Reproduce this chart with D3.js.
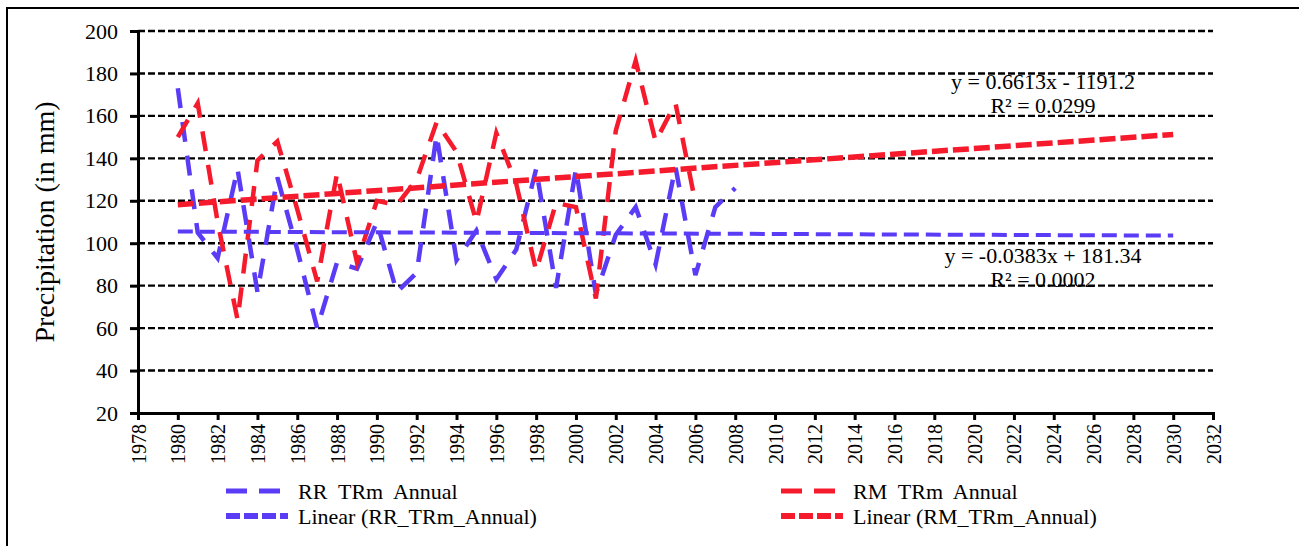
<!DOCTYPE html>
<html>
<head>
<meta charset="utf-8">
<script src="https://cdn.jsdelivr.net/npm/d3@7"></script>
<style>
  body { margin: 0; background: #fff; }
  text { font-family: "Liberation Serif", "Times New Roman", serif; fill: #000; white-space: pre; }
</style>
</head>
<body>
<div id="chart"></div>
<script>
// data
var rrYears = d3.range(1980, 2009);
var rrValues = [173, 105, 93, 135, 77, 131, 97, 60, 91, 88, 110, 77, 86, 151, 92,
                106, 83, 97, 135, 79, 135, 76, 104, 117, 90, 136, 85, 117, 126];

var rmYears = d3.range(1980, 2007);
var rmValues = [150, 166, 110, 64, 139, 148, 116, 82, 133, 91, 120, 118, 130, 157, 143,
                110, 152, 128, 87, 119, 117, 74, 153, 186, 148, 166, 119];

// trendline equations as printed on the chart
var trendSlopes = [-0.0383, 0.6613];
var trendIntercepts = [181.34, -1191.2];
var trendRange = [1980, 2030];

var yTicks = [20, 40, 60, 80, 100, 120, 140, 160, 180, 200];
var xTicks = d3.range(1978, 2033, 2);

var legendLabels = ["RR  TRm  Annual", "Linear (RR_TRm_Annual)", "RM  TRm  Annual", "Linear (RM_TRm_Annual)"];
var eqLabels = ["y = -0.0383x + 181.34", "R\u00B2 = 0.0002", "y = 0.6613x - 1191.2", "R\u00B2 = 0.0299"];

var blue = "#5a3cf7";
var red = "#f51a2c";
var serif = "'Liberation Serif', 'Times New Roman', serif";

var svgWidth = 1299;
var svgHeight = 546;

var margin = { top: 31, right: 86, bottom: 133, left: 138 };
var chartWidth = svgWidth - margin.left - margin.right;
var chartHeight = svgHeight - margin.top - margin.bottom;

var svg = d3.select("#chart")
  .append("svg")
  .attr("width", svgWidth)
  .attr("height", svgHeight)
  .attr("font-family", serif);

// outer frame (only top and left edges show inside the window)
svg.append("rect")
  .attr("x", 7).attr("y", 8)
  .attr("width", 1310).attr("height", 560)
  .attr("fill", "none")
  .attr("stroke", "#000")
  .attr("stroke-width", 2);

var chartGroup = svg.append("g")
  .attr("transform", `translate(${margin.left}, ${margin.top})`);

var xScale = d3.scaleLinear().domain([1978, 2032]).range([0, chartWidth]);
var yScale = d3.scaleLinear().domain([20, 200]).range([chartHeight, 0]);

// gridlines
chartGroup.append("g")
  .selectAll("line")
  .data(yTicks.filter(d => d > 20))
  .enter()
  .append("line")
  .attr("x1", 0)
  .attr("x2", chartWidth)
  .attr("y1", d => yScale(d))
  .attr("y2", d => yScale(d))
  .attr("stroke", "#000")
  .attr("stroke-width", 2.4)
  .attr("stroke-dasharray", "7,3");

// axes
var leftAxis = d3.axisLeft(yScale).tickValues(yTicks).tickSize(8).tickPadding(12).tickFormat(d3.format("d"));
var bottomAxis = d3.axisBottom(xScale).tickValues(xTicks).tickSize(7).tickFormat(d3.format("d"));

var yAxisG = chartGroup.append("g").call(leftAxis);
var xAxisG = chartGroup.append("g")
  .attr("transform", `translate(0, ${chartHeight})`)
  .call(bottomAxis);

[yAxisG, xAxisG].forEach(function(g) {
  g.attr("font-family", serif);
  g.select(".domain").attr("stroke", "#000").attr("stroke-width", 3);
  g.selectAll(".tick line").attr("stroke", "#000").attr("stroke-width", 3);
});

yAxisG.selectAll("text")
  .attr("font-family", serif)
  .style("font-size", "22px");

xAxisG.selectAll("text")
  .attr("font-family", serif)
  .style("font-size", "20px")
  .attr("transform", "rotate(-90)")
  .attr("text-anchor", "end")
  .attr("x", -11)
  .attr("y", 0)
  .attr("dy", "0.35em");

// series
var line = d3.line()
  .x(d => xScale(d[0]))
  .y(d => yScale(d[1]));

chartGroup.append("path")
  .datum(d3.zip(rrYears, rrValues))
  .attr("d", line)
  .attr("fill", "none")
  .attr("stroke", blue)
  .attr("stroke-width", 4.5)
  .attr("stroke-dasharray", "20,14");

chartGroup.append("path")
  .datum(d3.zip(rmYears, rmValues))
  .attr("d", line)
  .attr("fill", "none")
  .attr("stroke", red)
  .attr("stroke-width", 4.5)
  .attr("stroke-dasharray", "20,14");

// trendlines
var trendColors = [blue, red];
var trendWidths = [4, 5.5];
var trendDash = ["15,7", "16,5"];
trendSlopes.forEach(function(m, i) {
  var pts = trendRange.map(yr => [yr, m * yr + trendIntercepts[i]]);
  chartGroup.append("path")
    .datum(pts)
    .attr("d", line)
    .attr("fill", "none")
    .attr("stroke", trendColors[i])
    .attr("stroke-width", trendWidths[i])
    .attr("stroke-dasharray", trendDash[i]);
});

// equation labels
var eqPos = [[1043, 263], [1043, 287], [1043, 89], [1043, 113]];
svg.selectAll(".eq")
  .data(eqLabels)
  .enter()
  .append("text")
  .attr("class", "eq")
  .attr("x", (d, i) => eqPos[i][0])
  .attr("y", (d, i) => eqPos[i][1])
  .attr("text-anchor", "middle")
  .style("font-size", "22px")
  .text(d => d);

// y axis title
svg.append("text")
  .attr("transform", "translate(54, 222) rotate(-90)")
  .attr("text-anchor", "middle")
  .style("font-size", "28px")
  .text("Precipitation (in mm)");

// legend
var legendX = [226, 226, 781, 781];
var legendY = [491, 516, 491, 516];
legendLabels.forEach(function(lab, i) {
  var isTrend = i % 2 === 1;
  var col = i < 2 ? blue : red;
  svg.append("line")
    .attr("x1", legendX[i])
    .attr("x2", legendX[i] + (isTrend ? 62 : 54))
    .attr("y1", legendY[i])
    .attr("y2", legendY[i])
    .attr("stroke", col)
    .attr("stroke-width", isTrend ? 6 : 5)
    .attr("stroke-dasharray", isTrend ? "14,4" : "21,12");
  svg.append("text")
    .attr("x", legendX[i] + 72)
    .attr("y", legendY[i])
    .attr("dy", "0.35em")
    .style("font-size", "22px")
    .text(lab);
});
</script>
</body>
</html>
